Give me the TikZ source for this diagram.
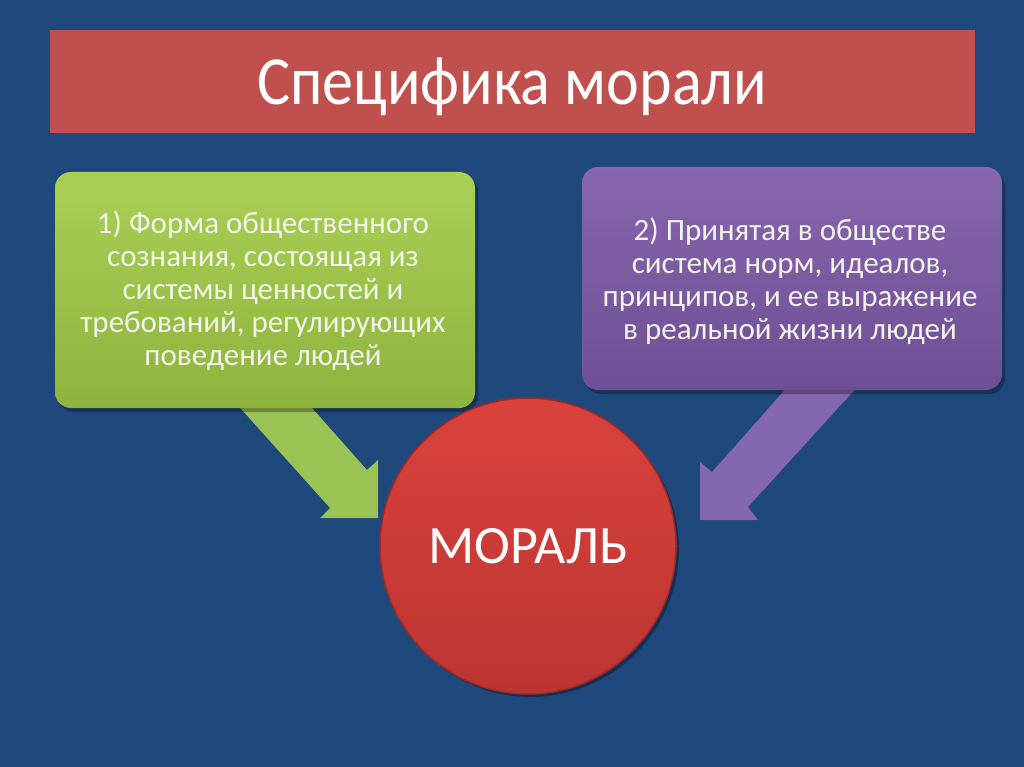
\documentclass[tikz,border=0pt]{standalone}
\usepackage{fontspec}
\setmainfont{Carlito}
\newfontfamily\titlefont[FakeStretch=0.9]{Carlito}
\definecolor{bg}{HTML}{1F497D}
\definecolor{titlered}{HTML}{C0504D}
\definecolor{gtop}{HTML}{AACF55}
\definecolor{gbot}{HTML}{8EB43E}
\definecolor{garrow}{HTML}{9BC255}
\definecolor{ptop}{HTML}{8766AE}
\definecolor{pbot}{HTML}{6E4E94}
\definecolor{parrow}{HTML}{8468AE}
\definecolor{rtop}{HTML}{DA423D}
\definecolor{rbot}{HTML}{BC3531}
\definecolor{rrim}{HTML}{9E2A27}
\definecolor{boxtext}{HTML}{F4F4EC}
\tikzset{
  shadowcopy/.style={fill=black, opacity=0.35},
  boxbase/.style={rounded corners=16pt, minimum width=420pt, inner sep=0pt},
  greenbox/.style={boxbase, minimum height=236pt, top color=gtop, bottom color=gbot},
  purplebox/.style={boxbase, minimum height=223pt, top color=ptop, bottom color=pbot},
  boxtxt/.style={text=boxtext, align=center, font=\fontsize{31}{33}\selectfont},
}
\begin{document}
\begin{tikzpicture}[x=1pt,y=-1pt]
\fill[bg] (0,0) rectangle (1024,767);
\useasboundingbox (0,0) rectangle (1024,767);

% title bar
\node[fill=titlered, minimum width=925pt, minimum height=103pt, inner sep=0pt] (title) at (512.5,81.5) {};
\node[text=white, font=\titlefont\fontsize{69}{72}\selectfont, anchor=base, inner sep=0pt] (titletext) at (512,105) {Специфика морали};

% arrow shapes (behind boxes)
\coordinate (ga1) at (233,400);
\coordinate (ga2) at (305,400);
\coordinate (ga3) at (367,470);
\coordinate (ga4) at (378,460);
\coordinate (ga5) at (378,518);
\coordinate (ga6) at (320,518);
\coordinate (ga7) at (330,508);
\fill[shadowcopy, shift={(3,3)}] (ga1) -- (ga2) -- (ga3) -- (ga4) -- (ga5) -- (ga6) -- (ga7) -- cycle;
\fill[garrow] (ga1) -- (ga2) -- (ga3) -- (ga4) -- (ga5) -- (ga6) -- (ga7) -- cycle;

\coordinate (pa1) at (860,384);
\coordinate (pa2) at (790,384);
\coordinate (pa3) at (712,472);
\coordinate (pa4) at (700,462);
\coordinate (pa5) at (700,520);
\coordinate (pa6) at (758,520);
\coordinate (pa7) at (748,507);
\fill[shadowcopy, shift={(3,3)}] (pa1) -- (pa2) -- (pa3) -- (pa4) -- (pa5) -- (pa6) -- (pa7) -- cycle;
\fill[parrow] (pa1) -- (pa2) -- (pa3) -- (pa4) -- (pa5) -- (pa6) -- (pa7) -- cycle;

% boxes
\fill[shadowcopy, rounded corners=16pt, opacity=0.3] (58,176) rectangle (478,412);
\node[greenbox] (box1) at (265,290) {};
\node[boxtxt] (box1text) at (263,291) {1) Форма общественного\\сознания, состоящая из\\системы ценностей и\\требований, регулирующих\\поведение людей};

\fill[shadowcopy, rounded corners=16pt, opacity=0.3] (585,171) rectangle (1005,394);
\node[purplebox] (box2) at (792,278.5) {};
\node[boxtxt] (box2text) at (790,281) {2) Принятая в обществе\\система норм, идеалов,\\принципов, и ее выражение\\в реальной жизни людей};

% circle
\fill[black, opacity=0.35] (531,549) circle (148);
\node[circle, minimum size=296pt, inner sep=0pt, top color=rtop, bottom color=rbot, draw=rrim, line width=1.5pt] (moral) at (528,546) {};
\node[text=white, font=\fontsize{54}{60}\selectfont] (moraltext) at (moral.center) {МОРАЛЬ};
\end{tikzpicture}
\end{document}
